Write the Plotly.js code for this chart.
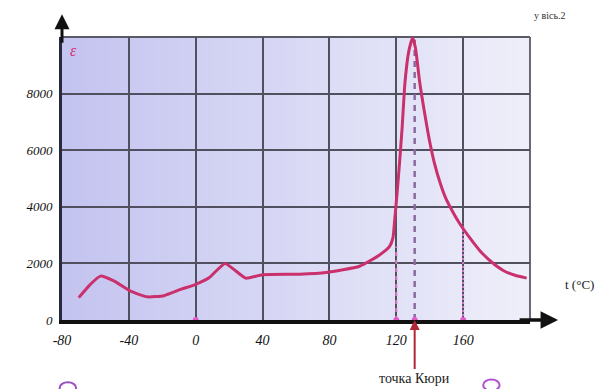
<!DOCTYPE html>
<html><head><meta charset="utf-8">
<script src="https://cdn.plot.ly/plotly-3.0.1.min.js"></script>
<style>html,body{margin:0;padding:0;background:#fff}#chart{width:596px;height:389px}</style>
</head><body><div id="chart"></div><script>
// Temperature (°C) and dielectric permittivity ε
const temps = [-70, -63, -57, -49, -39, -29, -19, -9, 0, 8, 17.5, 24, 30, 40, 62, 78, 98, 110, 116, 118, 119, 120.5, 122, 123.5, 125.2, 127.5, 129.8, 131.5, 134, 137, 140, 143, 146.5, 150, 154, 158, 164, 170, 177, 184, 191, 198];
const permittivity = [790, 1260, 1550, 1380, 1020, 820, 860, 1080, 1260, 1490, 2000, 1730, 1480, 1600, 1620, 1680, 1900, 2300, 2600, 2900, 3500, 4500, 5600, 6800, 8400, 9500, 9980, 9600, 8400, 7300, 6300, 5500, 4800, 4250, 3800, 3400, 2900, 2450, 2050, 1750, 1580, 1480];
const xTicks = [-80, -40, 0, 40, 80, 120, 160, 200];
const xTickText = ['-80', '-40', '0', '40', '80', '120', '160', ''];
const yTicks = [0, 2000, 4000, 6000, 8000, 10000];
const yTickText = ['0', '2000', '4000', '6000', '8000', ''];
const curieT = 131;
const guideTemps = [120, 131, 160];
const guideTops = [2600, 9900, 3400];
const axisDotTemps = [0, 120, 131, 160];

const serif = 'Liberation Serif, DejaVu Serif, serif';

const guideStyles = [
  {color: '#d77bc0', dash: '4px,4px', width: 2},
  {color: '#8a6a9c', dash: '6px,5px', width: 2.5},
  {color: '#d77bd0', dash: '2px,2px', width: 2}
];
const traces = guideTemps.map((t, i) => ({
  x: [t, t], y: [0, guideTops[i]], mode: 'lines', type: 'scatter',
  line: guideStyles[i], hoverinfo: 'skip', showlegend: false
}));
traces.push({
  x: temps, y: permittivity, mode: 'lines', type: 'scatter',
  line: {color: '#c9306c', width: 3, shape: 'spline', smoothing: 0.5},
  showlegend: false
});
traces.push({
  x: axisDotTemps, y: axisDotTemps.map(() => 0), mode: 'markers', type: 'scatter',
  marker: {color: '#e25ac8', size: 6}, cliponaxis: false, showlegend: false
});

// background gradient strips (styling only)
const shapes = [];
const N = 40;
for (let i = 0; i < N; i++) {
  const f = i / (N - 1);
  const r = Math.round(196 + (238 - 196) * f);
  const g = Math.round(196 + (238 - 196) * f);
  const b = Math.round(240 + (250 - 240) * f);
  shapes.push({type: 'rect', xref: 'paper', yref: 'paper', x0: i / N, x1: (i + 1) / N + 0.002, y0: 0, y1: 1,
    fillcolor: `rgb(${r},${g},${b})`, line: {width: 0}, layer: 'below'});
}
// plot frame at top and right
shapes.push({type: 'line', xref: 'paper', yref: 'paper', x0: 0, x1: 1, y0: 1, y1: 1, line: {color: '#5a5a66', width: 2}, layer: 'between'});
shapes.push({type: 'line', xref: 'paper', yref: 'paper', x0: 1, x1: 1, y0: 0, y1: 1, line: {color: '#6a6a74', width: 2}, layer: 'between'});
// decorative circles at the bottom edge
shapes.push({type: 'circle', xref: 'paper', yref: 'paper', x0: -0.005, x1: 0.03, y0: -0.26, y1: -0.22, line: {color: '#9a4fc0', width: 2}});
shapes.push({type: 'circle', xref: 'paper', yref: 'paper', x0: 0.9, x1: 0.935, y0: -0.25, y1: -0.21, line: {color: '#b050d0', width: 2}});

const layout = {
  width: 596, height: 389,
  margin: {l: 62, r: 66, t: 37, b: 69},
  paper_bgcolor: '#ffffff', plot_bgcolor: 'rgba(0,0,0,0)',
  showlegend: false,
  xaxis: {
    range: [-80, 200], tickvals: xTicks, ticktext: xTickText,
    showgrid: true, gridcolor: '#50505e', gridwidth: 2,
    zeroline: false, showline: true, linecolor: '#111', linewidth: 4,
    ticks: '', ticklabelstandoff: 4,
    tickfont: {family: serif, size: 14, style: 'italic', color: '#111'}
  },
  yaxis: {
    range: [0, 10000], tickvals: yTicks, ticktext: yTickText,
    showgrid: true, gridcolor: '#50505e', gridwidth: 2,
    zeroline: false, showline: true, linecolor: '#2a2a3e', linewidth: 3,
    ticks: '', ticklabelstandoff: 4,
    tickfont: {family: serif, size: 13, style: 'italic', color: '#111'}
  },
  shapes: shapes,
  annotations: [
    {xref: 'paper', yref: 'paper', x: 0, y: 1.08, ax: 0, ay: 30, text: '', showarrow: true,
      arrowhead: 2, arrowsize: 1, arrowwidth: 3, arrowcolor: '#111'},
    {xref: 'paper', yref: 'paper', x: 1.06, y: 0, ax: -40, ay: 0, text: '', showarrow: true,
      arrowhead: 2, arrowsize: 1, arrowwidth: 3.5, arrowcolor: '#111'},
    {xref: 'x', yref: 'y', x: curieT, y: 0, ax: 0, ay: 58, text: 'точка Кюри', showarrow: true,
      arrowhead: 2, arrowsize: 1, arrowwidth: 2, arrowcolor: '#b02838',
      font: {family: serif, size: 14, color: '#222'}},
    {xref: 'paper', yref: 'paper', x: 0.012, y: 0.99, xanchor: 'left', yanchor: 'top', showarrow: false,
      text: 'ε', font: {family: serif, size: 16, style: 'italic', color: '#d8307a'}},
    {xref: 'paper', yref: 'paper', x: 1.07, y: 0.125, xanchor: 'left', yanchor: 'middle', showarrow: false,
      text: 't (°C)', font: {family: serif, size: 13, color: '#222'}},
    {xref: 'paper', yref: 'paper', x: 1.005, y: 1.075, xanchor: 'left', yanchor: 'middle', showarrow: false,
      text: 'у вісь.2', font: {family: serif, size: 10, color: '#333'}}
  ]
};
Plotly.newPlot('chart', traces, layout, {displayModeBar: false, staticPlot: true});
</script></body></html>
